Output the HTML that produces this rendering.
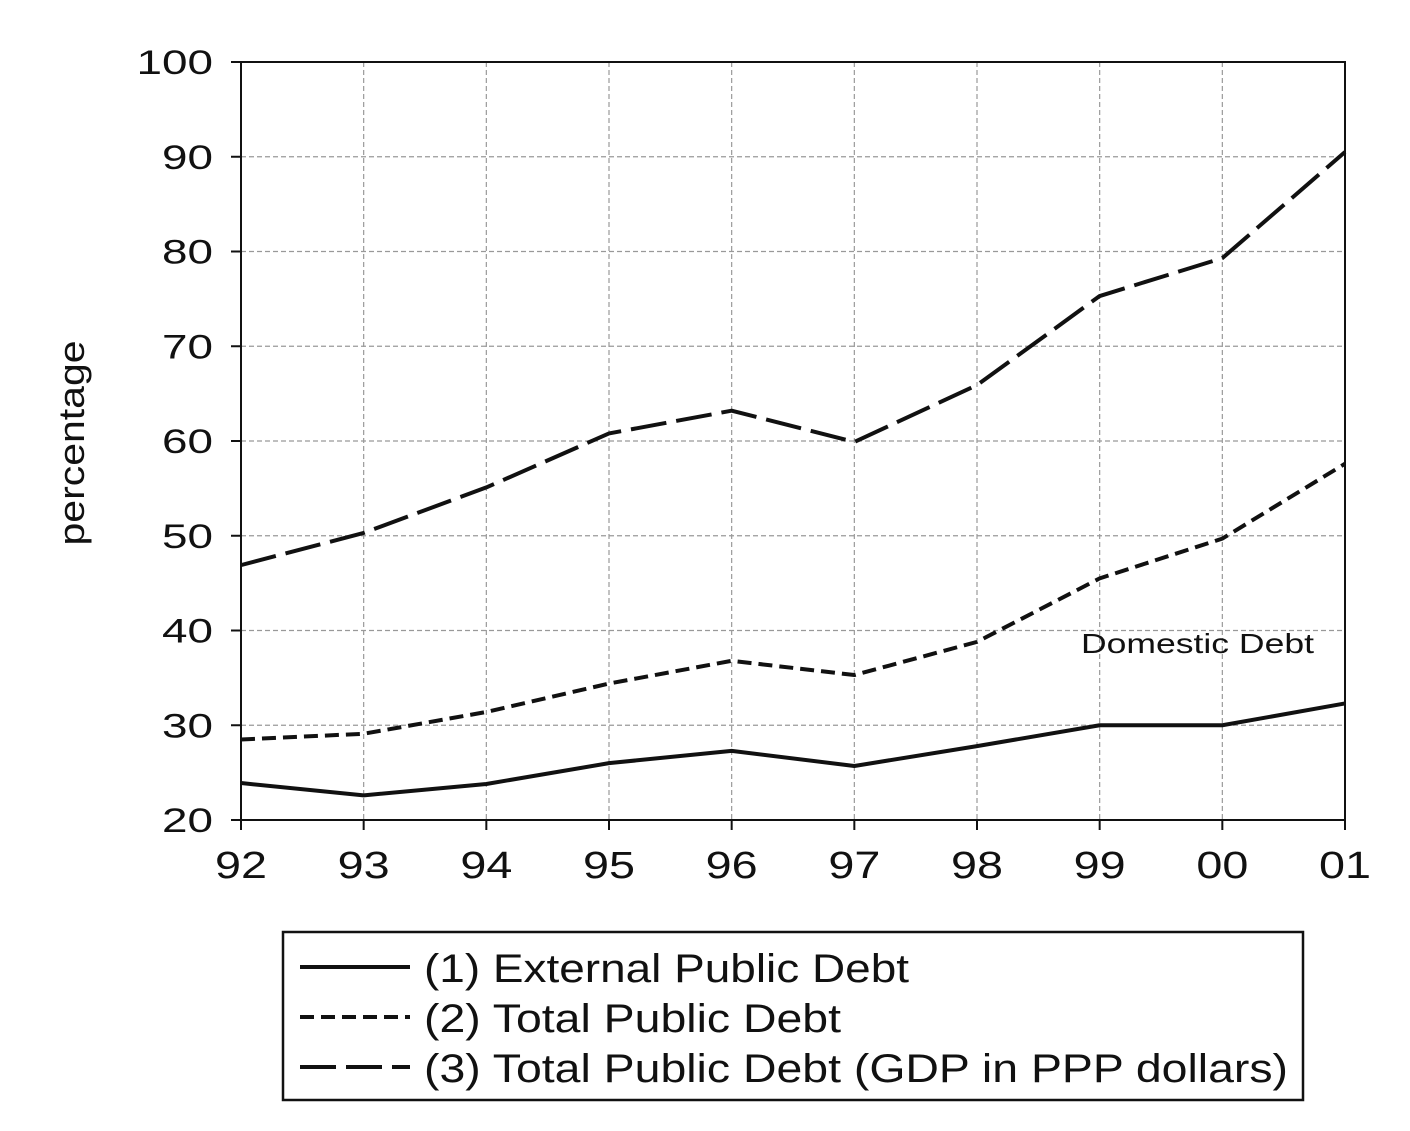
<!DOCTYPE html>
<html><head><meta charset="utf-8"><style>
html,body{margin:0;padding:0;background:#fff;}
svg text{font-family:"Liberation Sans",sans-serif;fill:#111;}
</style></head><body>
<svg id="chart" width="1410" height="1126" xmlns="http://www.w3.org/2000/svg">
<g id="grid"></g>
<g id="series"></g>
<rect x="241" y="62" width="1104" height="758" fill="none" stroke="#111" stroke-width="2"/>
<g id="axes"></g>
<text transform="translate(84,443) rotate(-90)" text-anchor="middle" font-size="36" textLength="205" lengthAdjust="spacingAndGlyphs">percentage</text>
<text x="1081" y="653" font-size="28" textLength="233" lengthAdjust="spacingAndGlyphs">Domestic  Debt</text>
<g>
<rect x="283" y="932" width="1020" height="168" fill="#fff" stroke="#111" stroke-width="2.5"/>
<g><line x1="300" y1="967" x2="410" y2="967" stroke="#111" stroke-width="4"/><text x="424" y="982" font-size="40" textLength="485" lengthAdjust="spacingAndGlyphs">(1) External Public Debt</text></g>
<g><line x1="300" y1="1017" x2="410" y2="1017" stroke="#111" stroke-width="4" stroke-dasharray="14,7"/><text x="424" y="1032" font-size="40" textLength="417" lengthAdjust="spacingAndGlyphs">(2) Total Public Debt</text></g>
<g><line x1="300" y1="1067" x2="410" y2="1067" stroke="#111" stroke-width="4" stroke-dasharray="36,10"/><text x="424" y="1082" font-size="40" textLength="864" lengthAdjust="spacingAndGlyphs">(3) Total Public Debt (GDP in PPP dollars)</text></g>
</g>
</svg>
<script>
const categories=["92","93","94","95","96","97","98","99","00","01"];
const externalDebt=[23.9,22.6,23.8,26.0,27.3,25.7,27.8,30.0,30.0,32.3];
const totalDebt=[28.5,29.1,31.4,34.4,36.8,35.3,38.8,45.5,49.7,57.6];
const pppDebt=[46.9,50.3,55.1,60.8,63.2,59.9,65.9,75.3,79.3,90.5];
const yTicks=[20,30,40,50,60,70,80,90,100];
const NS="http://www.w3.org/2000/svg";
const L=241,R=1345,T=62,B=820;
const x=i=>L+(R-L)*i/(categories.length-1);
const y=v=>B-(v-20)/80*(B-T);
function mk(tag,attrs,parent){const e=document.createElementNS(NS,tag);for(const k in attrs)e.setAttribute(k,attrs[k]);parent.appendChild(e);return e;}
const grid=document.getElementById('grid'),axes=document.getElementById('axes'),series=document.getElementById('series');
yTicks.forEach(v=>{
  if(v>20&&v<100){const g=mk('line',{x1:L,x2:R,y1:y(v),y2:y(v),stroke:'#999','stroke-width':1.2,'stroke-dasharray':'5,3'},grid);
  
  }
  const t=mk('line',{x1:L-10,x2:L,y1:y(v),y2:y(v),stroke:'#111','stroke-width':2},axes);
  
  
  const s=String(v);
  const tx=mk('text',{x:213-s.length*25.5,y:y(v)+12,'font-size':34,textLength:s.length*25.5,lengthAdjust:'spacingAndGlyphs'},axes);tx.textContent=s;
  
  
});
categories.forEach((c,i)=>{
  if(i>0&&i<categories.length-1){const g=mk('line',{x1:x(i),x2:x(i),y1:T,y2:B,stroke:'#999','stroke-width':1.2,'stroke-dasharray':'5,3'},grid);
  
  }
  const t=mk('line',{x1:x(i),x2:x(i),y1:B,y2:B+10,stroke:'#111','stroke-width':2},axes);
  
  
  const tx=mk('text',{x:x(i)-26,y:878,'font-size':38,textLength:52,lengthAdjust:'spacingAndGlyphs'},axes);tx.textContent=c;
  
  
});
function line(data,dash,name){
  const p=mk('polyline',{points:data.map((v,i)=>x(i)+','+y(v)).join(' '),fill:'none',stroke:'#111','stroke-width':4,'stroke-dasharray':dash,'stroke-linejoin':'round'},series);
  
  
}
line(externalDebt,'none','external-debt-line');
line(totalDebt,'14,7','total-debt-line');
line(pppDebt,'36,10','ppp-debt-line');
</script>
</body></html>
